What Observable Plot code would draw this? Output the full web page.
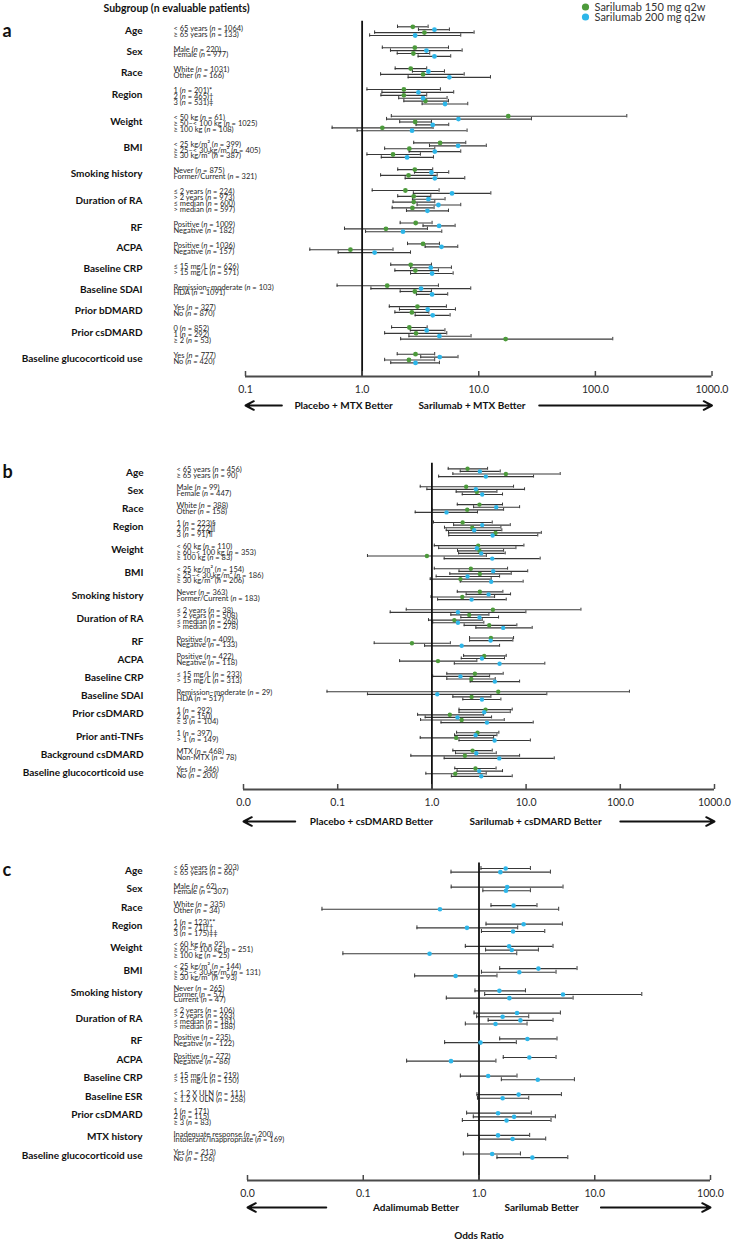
<!DOCTYPE html>
<html><head><meta charset="utf-8">
<script src="https://cdn.jsdelivr.net/npm/d3@7"></script>
<script src="https://cdn.jsdelivr.net/npm/@observablehq/plot@0.6"></script>
<style>
body{margin:0;background:#fff;font-family:Lato,sans-serif}
#wrap{width:732px;height:1240px;overflow:hidden}
#wrap svg{display:block}
</style>
</head><body><div id="wrap"></div>
<script>
// ---------------- DATA ----------------
const seriesNames = ["Sarilumab 150 mg q2w", "Sarilumab 200 mg q2w"];

// Panel a
const aGroups = ["Age","Sex","Race","Region","Weight","BMI","Smoking history","Duration of RA","RF","ACPA","Baseline CRP","Baseline SDAI","Prior bDMARD","Prior csDMARD","Baseline glucocorticoid use"];
const aSubgroups = [
  ["< 65 years (n = 1064)","≥ 65 years (n = 133)"],
  ["Male (n = 220)","Female (n = 977)"],
  ["White (n = 1031)","Other (n = 166)"],
  ["1 (n = 201)*","2 (n = 465)†","3 (n = 531)‡"],
  ["< 50 kg (n = 61)","≥ 50–< 100 kg (n = 1025)","≥ 100 kg (n = 108)"],
  ["< 25 kg/m² (n = 399)","≥ 25–< 30 kg/m² (n = 405)","≥ 30 kg/m² (n = 387)"],
  ["Never (n = 875)","Former/Current (n = 321)"],
  ["≤ 2 years (n = 224)","> 2 years (n = 973)","≤ median (n = 600)","> median (n = 597)"],
  ["Positive (n = 1009)","Negative (n = 182)"],
  ["Positive (n = 1036)","Negative (n = 157)"],
  ["≤ 15 mg/L (n = 626)","> 15 mg/L (n = 571)"],
  ["Remission–moderate (n = 103)","HDA (n = 1091)"],
  ["Yes (n = 327)","No (n = 870)"],
  ["0 (n = 852)","1 (n = 292)","≥ 2 (n = 53)"],
  ["Yes (n = 777)","No (n = 420)"]
];
// [odds ratio, lower 95% CI, upper 95% CI]
const aSari150 = [
  [2.72,2.01,3.68],[3.42,1.28,9.12],
  [2.83,1.49,5.5],[2.75,2.0,3.8],
  [2.61,1.92,3.58],[3.33,1.44,7.5],
  [2.28,1.1,4.69],[2.28,1.45,3.58],[3.49,2.28,5.5],
  [17.9,1.78,186],[2.85,2.1,3.93],[1.49,0.553,4.06],
  [4.66,2.77,7.74],[2.54,1.56,4.2],[1.84,1.1,3.16],
  [2.83,2.02,4.03],[2.5,1.44,4.4],
  [2.35,1.22,4.57],[2.77,2.02,3.88],[2.77,1.84,4.2],[2.7,1.81,4.14],
  [2.88,2.12,3.98],[1.6,0.706,3.63],
  [3.33,2.45,4.6],[0.794,0.356,1.84],
  [2.61,1.76,3.93],[2.86,1.91,4.51],
  [1.64,0.61,4.51],[2.83,2.12,3.93],
  [2.98,1.71,5.28],[2.67,1.91,3.73],
  [2.54,1.79,3.61],[2.9,1.56,5.32],[17,2.14,141],
  [2.87,2.0,4.19],[2.52,1.56,4.19]
];
const aSari200 = [
  [4.17,3.04,5.6],[2.85,1.16,7.01],
  [3.56,1.75,7.2],[4.17,3.02,5.75],
  [3.7,2.7,5.08],[5.6,2.48,12.6],
  [3.04,1.48,6.1],[3.33,2.06,5.35],[5.14,3.27,8.05],
  [6.7,1.62,28.3],[4.03,2.9,5.53],[2.68,0.906,7.94],
  [6.65,3.78,11.6],[4.2,2.53,7.01],[2.43,1.46,4.09],
  [3.93,2.81,5.53],[4.2,2.34,7.59],
  [5.9,2.75,12.7],[3.7,2.7,5.14],[4.51,2.96,7.01],[3.63,2.4,5.5],
  [4.57,3.33,6.27],[2.24,1.07,4.82],
  [4.79,3.47,6.61],[1.28,0.623,2.6],
  [3.88,2.6,5.83],[3.98,2.6,6.03],
  [3.2,1.19,8.54],[3.98,2.92,5.42],
  [3.65,2.09,6.31],[4.03,2.85,5.68],
  [3.58,2.59,5.13],[4.6,2.52,8.59],null,
  [4.63,3.18,6.64],[2.87,1.76,4.6]
];

// Panel b
const bGroups = ["Age","Sex","Race","Region","Weight","BMI","Smoking history","Duration of RA","RF","ACPA","Baseline CRP","Baseline SDAI","Prior csDMARD","Prior anti-TNFs","Background csDMARD","Baseline glucocorticoid use"];
const bSubgroups = [
  ["< 65 years (n = 456)","≥ 65 years (n = 90)"],
  ["Male (n = 99)","Female (n = 447)"],
  ["White (n = 388)","Other (n = 158)"],
  ["1 (n = 223)§","2 (n = 222)‖","3 (n = 91)¶"],
  ["< 60 kg (n = 110)","≥ 60–< 100 kg (n = 353)","≥ 100 kg (n = 83)"],
  ["< 25 kg/m² (n = 154)","≥ 25–< 30 kg/m² (n = 186)","≥ 30 kg/m² (n = 206)"],
  ["Never (n = 363)","Former/Current (n = 183)"],
  ["≤ 2 years (n = 38)","> 2 years (n = 508)","≤ median (n = 268)","> median (n = 278)"],
  ["Positive (n = 409)","Negative (n = 133)"],
  ["Positive (n = 422)","Negative (n = 118)"],
  ["≤ 15 mg/L (n = 233)","> 15 mg/L (n = 313)"],
  ["Remission–moderate (n = 29)","HDA (n = 517)"],
  ["1 (n = 292)","2 (n = 150)","≥ 3 (n = 104)"],
  ["1 (n = 397)","> 1 (n = 149)"],
  ["MTX (n = 468)","Non-MTX (n = 78)"],
  ["Yes (n = 346)","No (n = 200)"]
];
const bSari150 = [
  [2.39,1.49,3.9],[6.1,1.67,23],
  [2.31,0.752,7.36],[3.0,1.81,4.9],
  [3.2,1.86,5.62],[2.37,1.0,5.77],
  [2.12,1.04,4.37],[2.68,1.36,5.4],[4.74,1.5,14.5],
  [3.1,1.06,9.48],[3.2,1.87,5.77],[0.885,0.207,3.78],
  [2.59,1.06,6.36],[3.23,1.55,6.95],[2.01,0.96,4.26],
  [3.23,1.86,5.67],[2.1,0.98,4.63],
  [4.44,0.534,38.2],[2.49,1.59,4.03],[1.73,0.92,3.42],[4.06,2.2,7.98],
  [4.23,2.51,7.36],[0.614,0.244,1.57],
  [3.59,2.17,6.15],[1.16,0.454,3.0],
  [2.86,1.44,5.71],[2.62,1.44,4.7],
  [5.06,0.077,125],[2.64,1.67,4.23],
  [3.71,1.94,7.12],[1.55,0.705,3.54],[2.07,0.758,5.86],
  [3.05,1.83,5.14],[1.81,0.752,4.52],
  [2.7,1.67,4.37],[2.24,0.598,8.53],
  [2.9,1.75,4.8],[1.77,0.863,3.77]
];
const bSari200 = [
  [3.23,2.0,5.31],[3.74,1.18,12],
  [2.93,0.885,9.63],[3.42,2.1,5.62],
  [4.82,2.77,8.53],[1.43,0.665,3.05],
  [3.42,1.7,6.79],[2.81,1.42,5.53],[4.41,1.51,13.3],
  [3.0,1.18,7.8],[3.34,1.92,6.0],[4.37,1.35,14.1],
  [4.48,1.94,10.4],[2.39,1.11,5.23],[4.26,2.0,9.3],
  [4.0,2.31,6.84],[2.64,1.15,6.15],
  [1.89,0.361,9.95],[3.2,2.03,5.1],[1.89,1.02,3.56],[5.71,2.93,11.6],
  [4.2,2.51,7.24],[2.07,0.836,5.23],
  [3.4,2.05,5.9],[5.23,1.73,15.8],
  [2.01,1.02,4.1],[4.66,2.55,8.53],
  [1.14,0.207,16.6],[3.4,2.13,5.4],
  [3.59,1.94,6.79],[1.87,0.849,4.3],[3.84,1.25,11.9],
  [2.91,1.74,4.9],[4.63,1.94,11.1],
  [2.96,1.78,4.82],[5.19,1.35,19.9],
  [3.18,1.85,5.62],[3.34,1.61,7.12]
];

// Panel c (Sarilumab 200 mg q2w vs adalimumab)
const cGroups = ["Age","Sex","Race","Region","Weight","BMI","Smoking history","Duration of RA","RF","ACPA","Baseline CRP","Baseline ESR","Prior csDMARD","MTX history","Baseline glucocorticoid use"];
const cSubgroups = [
  ["< 65 years (n = 303)","≥ 65 years (n = 66)"],
  ["Male (n = 62)","Female (n = 307)"],
  ["White (n = 335)","Other (n = 34)"],
  ["1 (n = 123)**","2 (n = 71)††","3 (n = 175)‡‡"],
  ["< 60 kg (n = 92)","≥ 60–< 100 kg (n = 251)","≥ 100 kg (n = 25)"],
  ["< 25 kg/m² (n = 144)","≥ 25–< 30 kg/m² (n = 131)","≥ 30 kg/m² (n = 93)"],
  ["Never (n = 265)","Former (n = 57)","Current (n = 47)"],
  ["≤ 2 years (n = 106)","> 2 years (n = 263)","≤ median (n = 181)","> median (n = 188)"],
  ["Positive (n = 235)","Negative (n = 122)"],
  ["Positive (n = 272)","Negative (n = 86)"],
  ["≤ 15 mg/L (n = 219)","> 15 mg/L (n = 150)"],
  ["< 1.2 X ULN (n = 111)","≥ 1.2 X ULN (n = 258)"],
  ["1 (n = 171)","2 (n = 115)","≥ 3 (n = 83)"],
  ["Inadequate response (n = 200)","Intolerant/Inappropriate (n = 169)"],
  ["Yes (n = 213)","No (n = 156)"]
];
const cSari200 = [
  [1.7,1.04,2.78],[1.53,0.573,4.14],
  [1.75,0.575,5.32],[1.71,1.08,2.78],
  [1.99,1.27,3.17],[0.46,0.044,4.88],
  [2.43,1.15,5.25],[0.787,0.291,2.16],[1.97,1.05,3.7],
  [1.82,0.762,4.36],[1.92,1.14,3.26],[0.374,0.0667,2.12],
  [3.26,1.51,7.03],[2.23,1.05,4.63],[0.628,0.278,1.43],
  [1.5,0.923,2.52],[5.32,1.12,25.5],[1.83,0.522,6.5],
  [2.13,0.906,5.05],[1.6,0.955,2.69],[2.28,1.2,4.36],[1.39,0.762,2.6],
  [2.62,1.51,4.72],[1.03,0.505,2.1],
  [2.72,1.62,4.63],[0.573,0.237,1.4],
  [1.2,0.69,2.13],[3.22,1.56,6.67],
  [2.2,0.96,5.15],[1.6,0.97,2.69],
  [1.46,0.782,2.83],[2.01,0.893,4.57],[1.73,0.718,4.19],
  [1.46,0.798,2.74],[1.95,1.01,3.77],
  [1.3,0.732,2.28],[2.89,1.43,5.85]
];

const aTicks = [0.1, 1, 10, 100, 1000];
const bTicks = [0.01, 0.1, 1, 10, 100, 1000];
const cTicks = [0.01, 0.1, 1, 10, 100];

// ---------------- DRAWING ----------------
const GREEN = "#4c9a3b", BLUE = "#2db6e9";
const W = 732;

function buildRows(groups, subs, nSeries, first, pitch, gap, subPitch) {
  const rows = [], glabels = [];
  let y = first, idx = 0;
  groups.forEach((name, gi) => {
    if (gi > 0) y += gap - pitch;
    const rs = subs[gi].map(label => {
      const ys = d3.range(nSeries).map(() => { const v = y; y += pitch; return v; });
      return {label, ys, yc: d3.mean(ys), i: idx++};
    });
    const center = d3.mean(rs, r => r.yc);
    const n = rs.length;
    rs.forEach((r, j) => { r.ys2 = center + (j - (n - 1) / 2) * subPitch; });
    rows.push(...rs);
    const gy = n === 3 ? (rs[0].ys2 + rs[1].ys2) / 2 + 0.8 : center;
    glabels.push({name, y: gy});
  });
  return {rows, glabels};
}

function italicN(svg) {
  svg.querySelectorAll("text").forEach(t => {
    if (t.childElementCount) return;
    const s = t.textContent, i = s.indexOf("(n =");
    if (i < 0) return;
    t.textContent = "";
    const ts = document.createElementNS("http://www.w3.org/2000/svg", "tspan");
    ts.setAttribute("font-style", "italic");
    ts.textContent = "n";
    t.append(s.slice(0, i + 1), ts, s.slice(i + 2));
  });
}

function panel(cfg) {
  const {rows, glabels} = buildRows(cfg.groups, cfg.subs, cfg.series.length, cfg.first, cfg.pitch, cfg.gap, cfg.subPitch);
  const ci = [], pts = [];
  cfg.series.forEach((s, k) => rows.forEach(r => {
    const v = s.values[r.i];
    if (!v) return;
    ci.push({lo: v[1], hi: v[2], y: r.ys[k]});
    pts.push({or: v[0], y: r.ys[k], color: s.color});
  }));
  const caps = ci.flatMap(d => [{x: d.lo, y: d.y}, {x: d.hi, y: d.y}]);
  const refTop = cfg.first - 5.5;
  const ax = cfg.axisY;
  const fmt = d3.format(".1f");
  const ann = cfg.ann;
  const marks = [
    Plot.ruleY(ci, {x1: "lo", x2: "hi", y: "y", stroke: "#383838", strokeWidth: 1.15}),
    Plot.ruleX(caps, {x: "x", y1: d => d.y - cfg.cap, y2: d => d.y + cfg.cap, stroke: "#383838", strokeWidth: 1}),
    Plot.ruleX([1], {y1: refTop, y2: ax, stroke: "#111", strokeWidth: 1.8}),
    Plot.dot(pts, {x: "or", y: "y", r: cfg.r, fill: "color", stroke: "none"}),
    // axis
    Plot.ruleY([ax], {x1: cfg.domain[0], x2: cfg.domain[1], stroke: "#4a4a4a", strokeWidth: 1.8}),
    Plot.ruleX(cfg.ticks, {x: d => d, y1: ax - 5, y2: ax, stroke: "#4a4a4a", strokeWidth: 1.5}),
    Plot.text(cfg.ticks, {x: d => d, y: ax + 13, text: d => fmt(d), fontSize: 10.5, fill: "#2a2a2a"}),
    // labels
    Plot.text(glabels, {y: "y", text: "name", frameAnchor: "left", dx: cfg.labelX - cfg.mL, textAnchor: "end", fontWeight: "bold", fontSize: 10, fill: "#111"}),
    Plot.text(rows, {y: "ys2", text: "label", frameAnchor: "left", dx: cfg.subX - cfg.mL, textAnchor: "start", fontSize: 7.5, fill: "#262626"}),
    Plot.text([cfg.letter], {y: glabels[0].y, frameAnchor: "left", dx: 2 - cfg.mL, textAnchor: "start", fontWeight: "bold", fontSize: 18, fill: "#111"}),
    // direction annotations
    Plot.arrow([ann.leftArrow, ann.rightArrow], {x1: d => d[0], x2: d => d[1], y1: ann.y, y2: ann.y, stroke: "#111", strokeWidth: 2, headLength: 7, headAngle: 55}),
    Plot.text([ann.leftText], {x: ann.leftTextX, y: ann.y, textAnchor: "end", fontWeight: "bold", fontSize: 10, fill: "#111"}),
    Plot.text([ann.rightText], {x: ann.rightTextX, y: ann.y, textAnchor: "start", fontWeight: "bold", fontSize: 10, fill: "#111"})
  ];
  if (cfg.extra) marks.push(...cfg.extra);
  const svg = Plot.plot({
    width: W, height: cfg.height,
    marginLeft: cfg.mL, marginRight: cfg.mR, marginTop: 0, marginBottom: 0,
    style: {fontFamily: "Lato, 'Open Sans', sans-serif", background: "white", color: "#111", overflow: "visible"},
    x: {type: "log", domain: cfg.domain, range: [cfg.mL, W - cfg.mR], axis: null},
    y: {type: "linear", domain: [0, cfg.height], range: [0, cfg.height], axis: null},
    marks
  });
  italicN(svg);
  return svg;
}

const wrap = document.getElementById("wrap");

// Panel a
const legend = seriesNames.map((name, i) => ({name, color: [GREEN, BLUE][i], y: 6.5 + i * 10}));
wrap.append(panel({
  groups: aGroups, subs: aSubgroups,
  series: [{color: GREEN, values: aSari150}, {color: BLUE, values: aSari200}],
  domain: [0.1, 1000], ticks: aTicks, mL: 245, mR: 20.5, height: 440,
  first: 26.3, pitch: 2.9, gap: 12.2, subPitch: 5.9, axisY: 376, labelX: 142, subX: 173,
  r: 2.4, cap: 1.7, letter: "a",
  ann: {y: 405, leftArrow: [0.205, 0.1], rightArrow: [33, 1000],
        leftText: "Placebo + MTX Better", leftTextX: 1.83,
        rightText: "Sarilumab + MTX Better", rightTextX: 3.04},
  extra: [
    Plot.text(["Subgroup (n evaluable patients)"], {y: 8, frameAnchor: "left", dx: 103 - 245, textAnchor: "start", fontWeight: "bold", fontSize: 10.5, fill: "#111"}),
    Plot.dot(legend, {y: "y", frameAnchor: "left", dx: 585 - 245, r: 3.6, fill: "color", stroke: "none"}),
    Plot.text(legend, {y: "y", text: "name", frameAnchor: "left", dx: 594 - 245, textAnchor: "start", fontSize: 11, fill: "#333"})
  ]
}));

// Panel b
wrap.append(panel({
  groups: bGroups, subs: bSubgroups,
  series: [{color: GREEN, values: bSari150}, {color: BLUE, values: bSari200}],
  domain: [0.01, 1000], ticks: bTicks, mL: 243, mR: 18, height: 395,
  first: 28.3, pitch: 2.6, gap: 10.1, subPitch: 5.5, axisY: 349, labelX: 143, subX: 176,
  r: 2.2, cap: 1.5, letter: "b",
  ann: {y: 381, leftArrow: [0.0354, 0.01], rightArrow: [100, 1000],
        leftText: "Placebo + csDMARD Better", leftTextX: 1.03,
        rightText: "Sarilumab + csDMARD Better", rightTextX: 2.51}
}));

// Panel c
wrap.append(panel({
  groups: cGroups, subs: cSubgroups,
  series: [{color: BLUE, values: cSari200}],
  domain: [0.01, 100], ticks: cTicks, mL: 247, mR: 22, height: 405,
  first: 33, pitch: 3.66, gap: 14.9, subPitch: 5.5, axisY: 345, labelX: 142, subX: 173,
  r: 2.3, cap: 2, letter: "c",
  ann: {y: 372, leftArrow: [0.0479, 0.01], rightArrow: [11.3, 100],
        leftText: "Adalimumab Better", leftTextX: 0.671,
        rightText: "Sarilumab Better", rightTextX: 1.66},
  extra: [
    Plot.text(["Odds Ratio"], {x: 1, y: 400, fontWeight: "bold", fontSize: 10, fill: "#111"})
  ]
}));
</script>
</body></html>
